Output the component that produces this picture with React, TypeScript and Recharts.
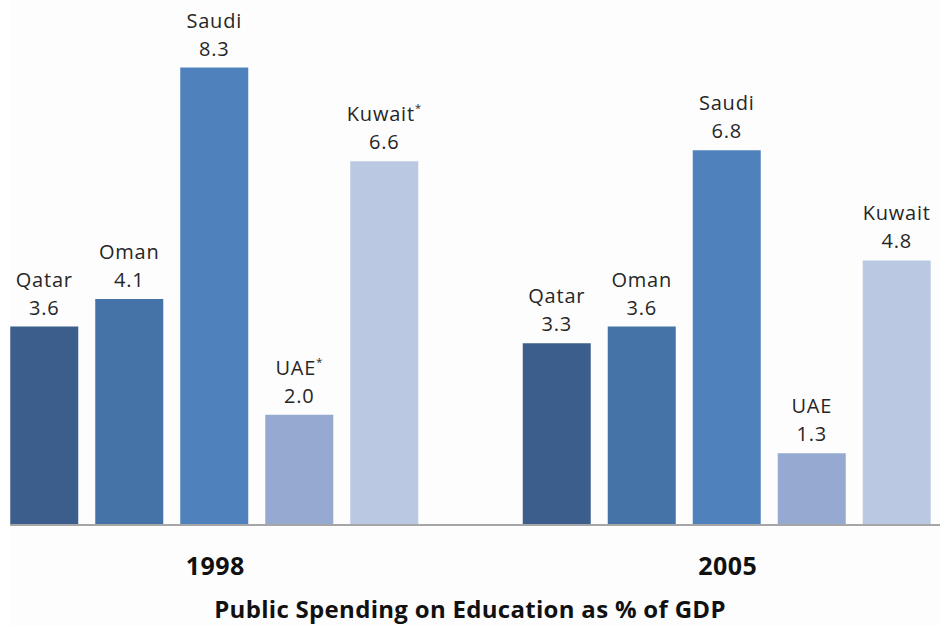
import React from 'react';
import { BarChart, Bar, XAxis, YAxis, LabelList } from 'recharts';

// 年份與國家
const YEARS = ['1998', '2005'];
const COUNTRIES = ['Qatar', 'Oman', 'Saudi', 'UAE', 'Kuwait'];

// 教育公共支出佔 GDP 百分比
const QATAR = [3.6, 3.3];
const OMAN = [4.1, 3.6];
const SAUDI = [8.3, 6.8];
const UAE = [2.0, 1.3];
const KUWAIT = [6.6, 4.8];

// 加註星號的資料點 [年份, 國家]
const STARRED: [string, string][] = [
  ['1998', 'UAE'],
  ['1998', 'Kuwait'],
];

const TITLE = 'Public Spending on Education as % of GDP';

const SERIES = [
  { key: COUNTRIES[0], values: QATAR, fill: '#3b5e8c' },
  { key: COUNTRIES[1], values: OMAN, fill: '#4572a7' },
  { key: COUNTRIES[2], values: SAUDI, fill: '#4f81bd' },
  { key: COUNTRIES[3], values: UAE, fill: '#95a9d1' },
  { key: COUNTRIES[4], values: KUWAIT, fill: '#bac8e1' },
];

const data = YEARS.map((year, i) => {
  const row: any = { year };
  SERIES.forEach((s) => {
    row[s.key] = s.values[i];
  });
  return row;
});

const FONT = '"Open Sans", sans-serif';

// 兩行標籤：國名(可加星號) + 數值
const renderLabel = (country: string) => (props: any) => {
  const { x, y, width, value, index } = props;
  const cx = Number(x) + Number(width) / 2;
  const top = Number(y);
  const starred = STARRED.some(([yr, c]) => yr === YEARS[index] && c === country);
  return (
    <g fontFamily={FONT} fontSize={20} fill="#262626" letterSpacing={0.8}>
      <text x={cx} y={top - 40} textAnchor="middle">
        {country}
        {starred && (
          <tspan fontSize={11} dy={-9}>
            *
          </tspan>
        )}
      </text>
      <text x={cx} y={top - 12} textAnchor="middle">
        {Number(value).toFixed(1)}
      </text>
    </g>
  );
};

const YearTick = (props: any) => {
  const { x, y, payload } = props;
  return (
    <text
      x={x}
      y={Number(y) + 42}
      textAnchor="middle"
      fontFamily={FONT}
      fontSize={25}
      fontWeight={700}
      letterSpacing={0.5}
      fill="#111"
    >
      {payload.value}
    </text>
  );
};

export default function App() {
  return (
    <div style={{ position: 'absolute', left: 0, top: 0, width: 940, height: 626, background: '#fff' }}>
      <div style={{ position: 'absolute', left: 10, top: 0, width: 930, height: 626, overflow: 'hidden', background: '#fdfdfd' }}>
        <div style={{ position: 'absolute', left: -51, top: 0 }}>
          <BarChart
            width={1025}
            height={626}
            data={data}
            margin={{ top: 29, right: 0, left: 0, bottom: 41 }}
            barGap={17}
            barCategoryGap="10%"
          >
            <XAxis
              dataKey="year"
              height={60}
              tickLine={false}
              axisLine={{ stroke: '#a6a6a6', strokeWidth: 2 }}
              tick={<YearTick />}
              interval={0}
            />
            <YAxis hide domain={[0, 9]} />
            {SERIES.map((s) => (
              <Bar key={s.key} dataKey={s.key} fill={s.fill} isAnimationActive={false}>
                <LabelList dataKey={s.key} content={renderLabel(s.key)} />
              </Bar>
            ))}
          </BarChart>
        </div>
      </div>
      <div
        style={{
          position: 'absolute',
          left: 0,
          top: 596,
          width: 940,
          textAlign: 'center',
          fontFamily: FONT,
          fontSize: 24,
          fontWeight: 700,
          letterSpacing: 0.3,
          lineHeight: 1.1,
          color: '#111',
          whiteSpace: 'nowrap',
        }}
      >
        {TITLE}
      </div>
    </div>
  );
}
